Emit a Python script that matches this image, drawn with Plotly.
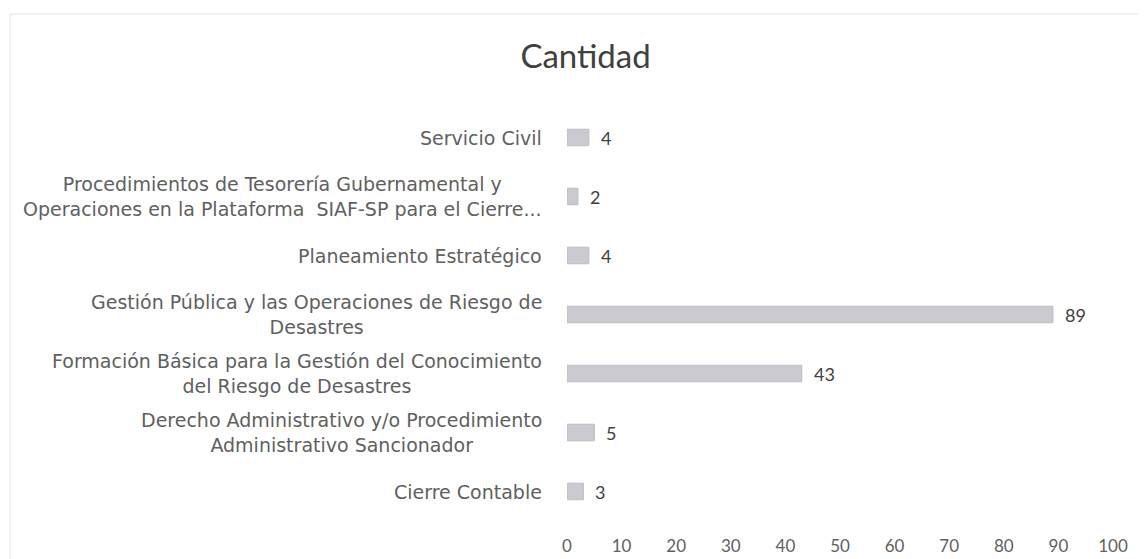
import plotly.graph_objects as go

categories = [
    "Cierre Contable",
    "Derecho Administrativo y/o Procedimiento<br>Administrativo Sancionador",
    "Formación Básica para la Gestión del Conocimiento<br>del Riesgo de Desastres",
    "Gestión Pública y las Operaciones de Riesgo de<br>Desastres",
    "Planeamiento Estratégico",
    "Procedimientos de Tesorería Gubernamental y<br>Operaciones en la Plataforma  SIAF-SP para el Cierre...",
    "Servicio Civil",
]
values = [3, 5, 43, 89, 4, 2, 4]
x_ticks = [0, 10, 20, 30, 40, 50, 60, 70, 80, 90, 100]

LABEL_FONT = "DejaVu Sans"
FONT = "Lato"
TXT = "#606060"

fig = go.Figure()
fig.add_trace(go.Bar(
    y=categories, x=values, orientation="h",
    marker=dict(color="#cacad0", line=dict(color="#bcbcc2", width=1)),
    hoverinfo="x+y",
))

annotations = []
for c, v in zip(categories, values):
    annotations.append(dict(
        x=-0.042, xref="paper", y=c, yref="y", text=c, showarrow=False,
        xanchor="right", yanchor="middle", align="center",
        font=dict(family=LABEL_FONT, size=19, color=TXT),
    ))
    annotations.append(dict(
        x=v, xref="x", y=c, yref="y", text=str(v), showarrow=False,
        xanchor="left", yanchor="middle", xshift=10,
        font=dict(family=FONT, size=18, color="#404040"),
    ))

fig.update_layout(
    width=1146, height=559,
    margin=dict(l=559, r=41, t=100, b=46, autoexpand=False),
    paper_bgcolor="white", plot_bgcolor="white",
    title=dict(text="Cantidad", x=0.504, xanchor="center", y=0.914, yanchor="middle",
               xref="container", yref="container",
               font=dict(family=FONT, size=33, color="#404040")),
    bargap=0.72,
    showlegend=False,
    annotations=annotations,
    xaxis=dict(range=[0, 100], tickvals=x_ticks, showgrid=False, zeroline=False,
               showline=False, ticks="", ticklabelstandoff=13, automargin=False,
               tickfont=dict(family=FONT, size=17, color=TXT)),
    yaxis=dict(categoryorder="array", categoryarray=categories, showticklabels=False,
               showgrid=False, zeroline=False, showline=False, ticks="", automargin=False),
    shapes=[dict(type="rect", xref="paper", yref="paper", x0=-1.020, x1=1.049,
                 y0=-0.3, y1=1.2276, line=dict(color="#e3e3e3", width=1), layer="below")],
)

fig.write_html("out.html")
